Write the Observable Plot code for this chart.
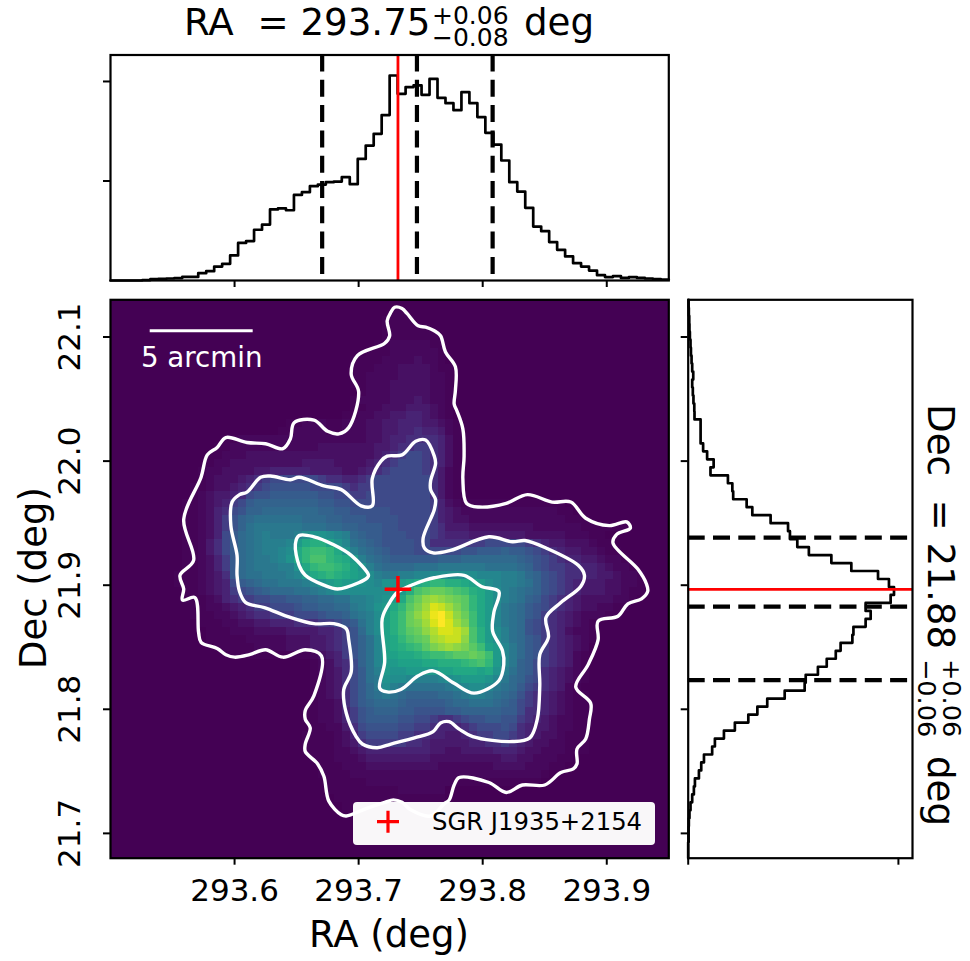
<!DOCTYPE html>
<html>
<head>
<meta charset="utf-8">
<style>
html,body{margin:0;padding:0;background:#fff;}
#page{position:relative;width:970px;height:961px;overflow:hidden;background:#fff;font-family:"DejaVu Sans";}
#page svg{position:absolute;overflow:visible;background:transparent;}
</style>
<script src="https://cdn.jsdelivr.net/npm/d3@7"></script>
<script src="https://cdn.jsdelivr.net/npm/@observablehq/plot@0.6"></script>
</head>
<body>
<div id="page"></div>
<script>
// ---------- data ----------
const raDomain = [293.5, 293.95];
const decDomain = [21.68, 22.13];
const raTicks = [293.6, 293.7, 293.8, 293.9];
const decTicks = [21.7, 21.8, 21.9, 22.0, 22.1];
const raQuantiles = [293.6706, 293.747, 293.808];
const decQuantiles = [21.9383, 21.8827, 21.8235];
const sourceRA = 293.7317;
const sourceDec = 21.8967;
const binCount = 70;
const countTicks = [500, 1000];

// counts per RA bin, west to east
const raCounts = [0,0,0,0,2,7,8,10,12,18,18,37,47,70,84,126,189,198,255,281,357,362,353,430,444,474,482,494,497,519,484,611,678,737,831,1030,938,972,980,933,1013,918,891,856,946,891,821,742,683,603,494,447,365,271,248,193,154,121,87,70,50,27,17,22,13,17,13,10,7,5];
// counts per Dec bin, north to south
const decCounts = [2,3,5,6,8,11,13,16,19,24,19,22,25,29,30,59,59,59,71,90,121,106,189,210,214,278,305,392,475,484,519,574,681,776,903,955,979,963,844,868,844,786,781,725,702,659,617,559,554,459,376,329,286,222,170,127,114,75,62,51,32,27,19,11,6,3,2,2,0,0];

// 2D density, 70 x 70 cells, base-36 level per cell (0 = floor, z = peak); "_" is ten empty cells
const densityRows = [
"",
"_ _ _ 0000011000",
"_ _ _ 0000111100",
"_ _ _ 0000111111",
"_ _ _ 0000111111 1",
"_ _ _ 0001122222 11",
"_ _ _ 0011122222 21",
"_ _ _ 1111222232 21",
"_ _ _ 1112223333 211",
"_ _ _ 1122223333 221",
"_ _ _ 1122233333 221",
"_ _ _ 0122233333 221",
"_ _ _ 1222233343 221",
"_ _ _ 1122333444 321",
"_ _ 0000000001 1223344554 321",
"_ _ 0011222112 2233445554 4321",
"_ _ 0112222112 2233445565 5421",
"_ 0000112222 2222222222 2233455666 6531",
"_ 0001122222 2222223333 3334456677 6531",
"_ 0011222333 3333333333 3334567887 6531",
"_ 0012233333 3333444433 3345678887 6531",
"_ 0122333344 5555544443 3456788887 6421",
"_ 0123334567 8888887665 5678888888 6421",
"_ 1123345678 9999988887 6778888888 6421",
"_ 1234456899 aaaaaa9988 7788888888 6421",
"0000000001 1234578abb bbbbbbaa99 8888888888 7532111111 1111111",
"0000000001 1235689bbc ccccccbbaa 9999988888 7543222222 2222221100",
"0000000001 123579bcdd ddddcccbba aa99998888 7543322222 2222222111",
"0000000001 123579bdee eeeedddccb baaa998888 7644433333 3332222221 1111100000",
"0000000001 12358acdef eeefhiihgf cbaa999888 7655544444 4433333222 11",
"0000000001 12468acdef ffgjlmmkig dcba999988 6666677888 8876544333 211",
"0000000001 12468acdef fghlnoonli fdcba99988 888899aaab aa98765443 3211",
"0000000001 12357acdee fgilnppnml jfdcbaaaaa abbbcccccc cba9876554 4322100000",
"0000000001 12357acdee effilnoonm kifdccccdd deeeeeeddd dcb9877665 5432210000",
"0000000011 12346acdde eefgjlmnml kjhfeeffgg hhhhhhgggf fecb987665 5443221000",
"0000000011 123458abcd deeefgijkj jihgiijklm nnmmlkjhgf fedb987654 4433221000",
"0000000001 12345789ab cccddefghh hhhhhijmpq rrqpomljhf edcb987654 4433211000",
"0000000001 1123567788 99aabbccdd ffghijlprt utsrqnljhf edba876543 3332210000",
"_ 1122345677 8889aabbcc efgijlnqsu xwusqnljge dca9876543 3221100000",
"_ 1112234566 7778889aab defhkmortv yzwtroljge dca9765432 2211000000",
"_ 0111223344 5556667789 adfhkmorsu xzxusoljge dc98765432 1",
"_ 0011122233 3344445567 9cfhkmoqrt vxxwupmjhf dc98765322 1",
"_ 0011111222 2233344567 9bdgklnpqr uvwwtpmjhf dca9765432 1",
"_ 0001111122 2233344567 9bdgklmnoq stutsqokjg eca9765432",
"_ 0000011111 1111123457 9bdgkkllmn oopqqrqojg eca9765421",
"_ _ 0000012356 8bdgjjkkkl lmmmnopnjg eba8765421",
"_ _ 0000012346 8adfjiijjj jkklllklif dba8654321",
"_ _ 0000012346 8adeihhgff fghijjjige cb98654321",
"_ _ 0000012346 8acehfeddd ddefghhged ca87654210",
"_ _ 0000012346 8acdedcbbb bccdeffedc b976543211",
"_ _ 0000012236 8abcccbaaa aabccdddcb a876543211",
"_ _ 0000112235 79abbbaa99 99aabbbbba a866543211",
"_ _ 0000112235 79aaaa9988 7667899aa9 9765432211",
"_ _ 0000011224 6899998877 6555678889 8654432211",
"_ _ 0000111123 5788887766 5544567788 7654332111",
"_ _ 0000111123 4677777665 4444455667 6543322111",
"_ _ 0000111122 3455555555 4433444455 5433222111",
"_ _ 0000011122 2344444444 3333333334 4332221100",
"_ _ 0000001112 2233333333 3222222233 3322211000",
"_ _ 0000001111 2222222222 2222222222 2222100000",
"_ _ 0000000111 1122222222 2221111111 1111",
"_ _ 0000000111 1111112222 22",
"_ _ 0000000011 1111111111 11",
"_ _ 0000000001 1111111111 1",
"","","","","",""
];
// shade read for each of the lowest levels (out of 35); higher levels stand for themselves
const faintShades = [0, 0.3, 0.8, 1.5, 2.4, 3.4, 4.6, 6.2, 7.8, 9];

// contours: [RA - 293, Dec]
const contourOuter = [[.729,22.124],[.735,22.123],[.739,22.119],[.748,22.109],[.754,22.108],[.761,22.105],[.766,22.101],[.770,22.088],[.778,22.076],[.778,22.057],[.777,22.046],[.779,22.041],[.784,22.026],[.785,22.004],[.784,21.986],[.787,21.966],[.797,21.963],[.819,21.966],[.836,21.973],[.856,21.967],[.871,21.967],[.883,21.954],[.902,21.948],[.916,21.951],[.919,21.946],[.908,21.941],[.905,21.934],[.925,21.913],[.932,21.901],[.933,21.895],[.928,21.889],[.917,21.885],[.909,21.875],[.893,21.871],[.893,21.856],[.885,21.836],[.875,21.818],[.887,21.805],[.886,21.792],[.883,21.776],[.876,21.768],[.876,21.756],[.873,21.752],[.863,21.749],[.850,21.739],[.832,21.739],[.819,21.733],[.805,21.741],[.781,21.745],[.777,21.739],[.773,21.727],[.769,21.724],[.758,21.714],[.742,21.719],[.735,21.725],[.728,21.727],[.721,21.725],[.706,21.720],[.690,21.714],[.686,21.715],[.676,21.726],[.672,21.746],[.667,21.756],[.657,21.766],[.657,21.772],[.661,21.785],[.657,21.792],[.657,21.799],[.664,21.811],[.670,21.843],[.657,21.848],[.639,21.842],[.625,21.848],[.612,21.844],[.600,21.842],[.593,21.844],[.586,21.849],[.573,21.854],[.571,21.862],[.568,21.890],[.558,21.888],[.559,21.897],[.556,21.908],[.567,21.920],[.559,21.953],[.573,21.987],[.578,22.005],[.586,22.011],[.593,22.019],[.610,22.015],[.625,22.014],[.639,22.010],[.645,22.018],[.648,22.031],[.664,22.033],[.675,22.024],[.684,22.022],[.692,22.027],[.700,22.056],[.694,22.070],[.699,22.085],[.721,22.095],[.725,22.101],[.723,22.113],[.726,22.120]];
const contourMiddle = [[.598,21.967],[.604,21.973],[.610,21.975],[.621,21.987],[.629,21.988],[.645,21.985],[.652,21.987],[.672,21.980],[.686,21.977],[.702,21.964],[.711,21.964],[.711,21.986],[.718,22.000],[.723,22.004],[.735,22.005],[.746,22.016],[.754,22.017],[.761,22.004],[.762,21.998],[.758,21.984],[.758,21.977],[.762,21.969],[.761,21.961],[.752,21.938],[.753,21.930],[.760,21.926],[.774,21.928],[.805,21.939],[.824,21.935],[.834,21.936],[.851,21.930],[.877,21.916],[.882,21.908],[.879,21.899],[.863,21.886],[.851,21.874],[.853,21.858],[.846,21.844],[.846,21.819],[.844,21.792],[.838,21.777],[.824,21.774],[.792,21.778],[.781,21.784],[.773,21.790],[.766,21.789],[.760,21.782],[.745,21.777],[.726,21.772],[.715,21.769],[.703,21.772],[.698,21.778],[.690,21.797],[.688,21.816],[.694,21.830],[.692,21.856],[.690,21.865],[.680,21.869],[.664,21.869],[.645,21.874],[.624,21.882],[.609,21.886],[.604,21.895],[.602,21.908],[.602,21.924],[.597,21.948]];
const contourInnerWest = [[.652,21.940],[.664,21.939],[.679,21.933],[.694,21.924],[.708,21.908],[.707,21.906],[.700,21.902],[.683,21.897],[.672,21.900],[.657,21.908],[.652,21.916],[.649,21.933]];
const contourInnerEast = [[.731,21.894],[.745,21.901],[.761,21.906],[.785,21.908],[.799,21.899],[.813,21.895],[.809,21.878],[.808,21.863],[.816,21.847],[.817,21.836],[.813,21.823],[.793,21.813],[.777,21.821],[.760,21.831],[.748,21.827],[.734,21.816],[.723,21.814],[.717,21.817],[.721,21.838],[.719,21.873],[.725,21.886]];
const contours = [contourOuter, contourMiddle, contourInnerWest, contourInnerEast];

const scaleBarRA = [293.532, 293.615];
const scaleBarDec = 22.105;
const scaleBarLabel = "5 arcmin";
const legendLabel = "SGR J1935+2154";

// ---------- derived tables ----------
const binWidth = (raDomain[1] - raDomain[0]) / binCount;
const raHist = [...raCounts, raCounts[binCount - 1]].map((c, i) => ({x: raDomain[0] + i * binWidth, c}));
const decHist = [...decCounts, decCounts[binCount - 1]].map((c, i) => ({y: decDomain[1] - i * binWidth, c}));
const density = densityRows
  .map(s => s.replace(/_/g, "0000000000").replace(/ /g, "").padEnd(binCount, "0"))
  .join("").split("").map(ch => {
    const level = parseInt(ch, 36);
    return (level < faintShades.length ? faintShades[level] : level) / 35;
  });

// ---------- styles ----------
const FONT = "DejaVu Sans";
const tickFont = 31, LW = 2.2;
const page = document.getElementById("page");
const put = (svg, left, top) => { svg.style.left = left + "px"; svg.style.top = top + "px"; page.appendChild(svg); };
const noLabel = () => "";
const dash = "17,8.3";

// ---------- top histogram ----------
put(Plot.plot({
  width: 680, height: 290,
  marginLeft: 110, marginRight: 11.7, marginTop: 54.5, marginBottom: 10,
  style: {background: "transparent", fontFamily: FONT},
  x: {domain: raDomain, axis: null},
  y: {domain: [0, 1133], axis: null},
  marks: [
    Plot.line(raHist, {x: "x", y: "c", curve: "step-after", stroke: "black", strokeWidth: 2.7}),
    Plot.ruleX(raQuantiles, {x: d => d, y1: 1133, y2: 0, stroke: "black", strokeWidth: 4.2, strokeDasharray: dash}),
    Plot.ruleX([sourceRA], {x: d => d, stroke: "red", strokeWidth: 2.8}),
    Plot.axisX({ticks: raTicks, tickFormat: noLabel, tickSize: 7, strokeWidth: 2, label: null}),
    Plot.axisY({ticks: countTicks, tickFormat: noLabel, tickSize: 7, strokeWidth: 2, label: null}),
    Plot.frame({stroke: "black", strokeWidth: LW})
  ]
}), 0, 0);

// ---------- main panel ----------
put(Plot.plot({
  width: 680, height: 671,
  marginLeft: 110, marginRight: 11.7, marginTop: 9.3, marginBottom: 103.3,
  style: {background: "transparent", fontFamily: FONT},
  x: {domain: raDomain, axis: null},
  y: {domain: decDomain, axis: null},
  color: {type: "linear", scheme: "viridis", domain: [0, 1]},
  marks: [
    Plot.raster(density, {width: binCount, height: binCount, x1: raDomain[0], x2: raDomain[1], y1: decDomain[1], y2: decDomain[0], fill: d => d, imageRendering: "pixelated"}),
    ...contours.map(c => Plot.line(c, {x: d => 293 + d[0], y: d => d[1], stroke: "white", strokeWidth: 3.4, curve: "catmull-rom-closed"})),
    Plot.ruleY([scaleBarDec], {x1: scaleBarRA[0], x2: scaleBarRA[1], y: d => d, stroke: "white", strokeWidth: 3}),
    Plot.text([scaleBarLabel], {x: (scaleBarRA[0] + scaleBarRA[1]) / 2, y: scaleBarDec, text: d => d, fill: "white", fontSize: 27.7, dy: 27, textAnchor: "middle"}),
    Plot.dot([[sourceRA, sourceDec]], {x: d => d[0], y: d => d[1], symbol: "plus", r: 8.6, stroke: "red", strokeWidth: 3.5}),
    Plot.axisX({ticks: raTicks, tickFormat: d3.format(".1f"), tickSize: 7, tickPadding: 14, fontSize: tickFont, strokeWidth: 2, label: null}),
    Plot.axisY({ticks: decTicks, tickFormat: d3.format(".1f"), tickSize: 7, tickPadding: 24, tickRotate: -90, fontSize: tickFont, strokeWidth: 2, label: null}),
    Plot.frame({stroke: "black", strokeWidth: LW})
  ]
}), 0, 290);

// ---------- right histogram ----------
put(Plot.plot({
  width: 240, height: 671,
  marginLeft: 7.7, marginRight: 8, marginTop: 9.3, marginBottom: 103.3,
  style: {background: "transparent", fontFamily: FONT},
  x: {domain: [0, 1067], axis: null},
  y: {domain: decDomain, axis: null},
  marks: [
    Plot.line(decHist, {x: "c", y: "y", curve: "step-before", stroke: "black", strokeWidth: 2.7}),
    Plot.ruleY(decQuantiles, {y: d => d, stroke: "black", strokeWidth: 4.2, strokeDasharray: dash}),
    Plot.ruleY([sourceDec], {y: d => d, stroke: "red", strokeWidth: 2.8}),
    Plot.axisX({ticks: [0, 1000], tickFormat: noLabel, tickSize: 7, strokeWidth: 2, label: null}),
    Plot.axisY({ticks: decTicks, tickFormat: noLabel, tickSize: 7, strokeWidth: 2, label: null}),
    Plot.frame({stroke: "black", strokeWidth: LW})
  ]
}), 680, 290);

// ---------- titles, axis labels, legend ----------
const overlay = d3.create("svg").attr("width", 970).attr("height", 961).style("left", "0").style("top", "0").attr("font-family", FONT);
const label = (txt, x, y, size, rot = 0, anchor = "start") => overlay.append("text")
  .attr("transform", `translate(${x},${y}) rotate(${rot})`)
  .attr("font-size", size).attr("text-anchor", anchor).style("white-space", "pre").attr("xml:space", "preserve").attr("fill", "black").text(txt);

label("RA  = 293.75", 184, 35, 37.2);
label("+0.06", 432, 23.5, 25);
label("\u22120.08", 432, 45.5, 25);
label("deg", 524, 35, 37.2);

label("Dec  = 21.88", 928, 404, 37.2, 90);
label("+0.06", 943, 659, 25.5, 90);
label("\u22120.06", 918, 659, 25.5, 90);
label("deg", 928, 756, 37.2, 90);

label("RA (deg)", 389, 947, 37, 0, "middle");
label("Dec (deg)", 46, 578, 37, -90, "middle");

overlay.append("rect").attr("x", 353).attr("y", 802).attr("width", 302).attr("height", 43).attr("rx", 4).attr("fill", "white").attr("fill-opacity", 0.97);
overlay.append("path").attr("d", "M377,821.7H399M388,810.7V832.7").attr("stroke", "red").attr("stroke-width", 3.2).attr("fill", "none");
label(legendLabel, 432, 830, 24.3);
page.appendChild(overlay.node());
</script>
</body>
</html>
